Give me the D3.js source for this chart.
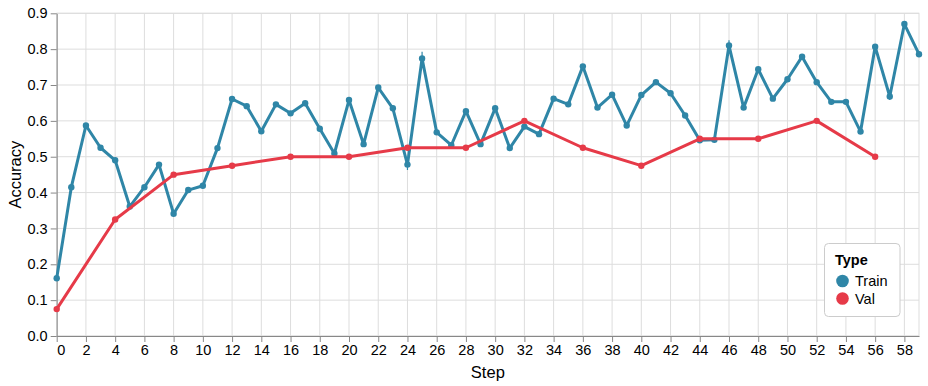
<!DOCTYPE html>
<html>
<head>
<meta charset="utf-8">
<script src="https://cdn.jsdelivr.net/npm/d3@7"></script>
<style>
  body { margin: 0; background: #fff; }
  svg { display: block; font-family: "Liberation Sans", Arial, sans-serif; }
</style>
</head>
<body>
<div id="chart"></div>
<script>
// train accuracy, one value per step (0..59)
var trainSteps = d3.range(0, 60);
var trainAcc = [
  0.161, 0.415, 0.587, 0.525, 0.490, 0.361, 0.415, 0.478, 0.341, 0.407,
  0.419, 0.524, 0.661, 0.641, 0.571, 0.646, 0.621, 0.649, 0.578, 0.509,
  0.658, 0.535, 0.693, 0.635, 0.478, 0.774, 0.568, 0.532, 0.627, 0.535,
  0.635, 0.524, 0.584, 0.563, 0.662, 0.646, 0.752, 0.637, 0.673, 0.587,
  0.672, 0.708, 0.677, 0.615, 0.546, 0.547, 0.810, 0.637, 0.744, 0.662,
  0.716, 0.779, 0.708, 0.653, 0.653, 0.570, 0.807, 0.668, 0.870, 0.786
];
// spread at the few steps where a whisker shows
var errSteps = [24, 25, 46, 57];
var errLow   = [0.463, 0.755, 0.795, 0.658];
var errHigh  = [0.493, 0.793, 0.825, 0.678];

// validation accuracy, every 4 steps
var valSteps = [0, 4, 8, 12, 16, 20, 24, 28, 32, 36, 40, 44, 48, 52, 56];
var valAcc = [0.075, 0.325, 0.45, 0.475, 0.5, 0.5, 0.525, 0.525, 0.6, 0.525, 0.475, 0.55, 0.55, 0.6, 0.5];

var typeNames = ['Train', 'Val'];
var typeColors = ['#2f86a7', '#e63a48'];
var xTicks = d3.range(0, 60, 2);
var yTicks = d3.range(0, 10).map(function(d) { return d / 10; });

var W = 928, H = 386;
var mLeft = 56.7, mRight = 919, mTop = 13.3, mBottom = 336;

var svg = d3.select('#chart').append('svg').attr('width', W).attr('height', H);

var x = d3.scaleLinear().domain([0, 59]).range([mLeft, mRight]);
var y = d3.scaleLinear().domain([0, 0.9]).range([mBottom, mTop]);
var color = d3.scaleOrdinal().domain(typeNames).range(typeColors);

// grid
var grid = svg.append('g');
grid.selectAll('.gx').data(xTicks).enter().append('line')
  .attr('x1', function(d) { return x(d); }).attr('x2', function(d) { return x(d); })
  .attr('y1', mTop).attr('y2', mBottom)
  .attr('stroke', '#ddd');
grid.selectAll('.gy').data(yTicks).enter().append('line')
  .attr('x1', mLeft).attr('x2', mRight)
  .attr('y1', function(d) { return y(d); }).attr('y2', function(d) { return y(d); })
  .attr('stroke', '#ddd');
grid.append('rect')
  .attr('x', mLeft).attr('y', mTop).attr('width', mRight - mLeft).attr('height', mBottom - mTop)
  .attr('fill', 'none').attr('stroke', '#ddd');

// axes
var xAxis = svg.append('g').attr('transform', 'translate(0,' + mBottom + ')')
  .call(d3.axisBottom(x).tickValues(xTicks).tickSizeOuter(0).tickPadding(3));
var yAxis = svg.append('g').attr('transform', 'translate(' + mLeft + ',0)')
  .call(d3.axisLeft(y).tickValues(yTicks).tickFormat(d3.format('.1f')).tickSizeOuter(0).tickPadding(3));
[xAxis, yAxis].forEach(function(a) {
  a.selectAll('path, line').attr('stroke', '#888');
  a.selectAll('text').attr('font-size', 14.5).attr('fill', '#000')
    .attr('font-family', '"Liberation Sans", Arial, sans-serif');
});
// first x label sits flush with the axis start
xAxis.selectAll('.tick text').filter(function(d) { return d === 0; })
  .attr('text-anchor', 'start');

svg.append('text').attr('x', (mLeft + mRight) / 2).attr('y', 378)
  .attr('text-anchor', 'middle').attr('font-size', 16.5).text('Step');
svg.append('text')
  .attr('transform', 'translate(21,' + ((mTop + mBottom) / 2) + ') rotate(-90)')
  .attr('text-anchor', 'middle').attr('font-size', 16.5).text('Accuracy');

// series
var train = trainSteps.map(function(s, i) { return {step: s, acc: trainAcc[i]}; });
var val = valSteps.map(function(s, i) { return {step: s, acc: valAcc[i]}; });
var errs = errSteps.map(function(s, i) { return {step: s, lo: errLow[i], hi: errHigh[i]}; });

var line = d3.line()
  .x(function(d) { return x(d.step); })
  .y(function(d) { return y(d.acc); });

function drawSeries(data, name) {
  var g = svg.append('g');
  g.append('path').datum(data)
    .attr('d', line).attr('fill', 'none')
    .attr('stroke', color(name)).attr('stroke-width', 3)
    .attr('stroke-linejoin', 'round');
  g.selectAll('circle').data(data).enter().append('circle')
    .attr('cx', function(d) { return x(d.step); })
    .attr('cy', function(d) { return y(d.acc); })
    .attr('r', 3.2).attr('fill', color(name));
  return g;
}

svg.append('g').selectAll('line').data(errs).enter().append('line')
  .attr('x1', function(d) { return x(d.step); }).attr('x2', function(d) { return x(d.step); })
  .attr('y1', function(d) { return y(d.lo); }).attr('y2', function(d) { return y(d.hi); })
  .attr('stroke', color('Train')).attr('stroke-width', 1.2);
drawSeries(train, 'Train');
drawSeries(val, 'Val');

// legend
var lg = svg.append('g').attr('transform', 'translate(824.5,243.5)');
lg.append('rect').attr('width', 75.5).attr('height', 73).attr('rx', 4)
  .attr('fill', '#fff').attr('stroke', '#ccc');
lg.append('text').attr('x', 10.5).attr('y', 21).attr('font-size', 14.5)
  .attr('font-weight', 'bold').text('Type');
typeNames.forEach(function(n, i) {
  lg.append('circle').attr('cx', 18).attr('cy', 37.5 + i * 17.5).attr('r', 6.3)
    .attr('fill', color(n));
  lg.append('text').attr('x', 30.5).attr('y', 42.5 + i * 17.5).attr('font-size', 14.5).text(n);
});
</script>
</body>
</html>
